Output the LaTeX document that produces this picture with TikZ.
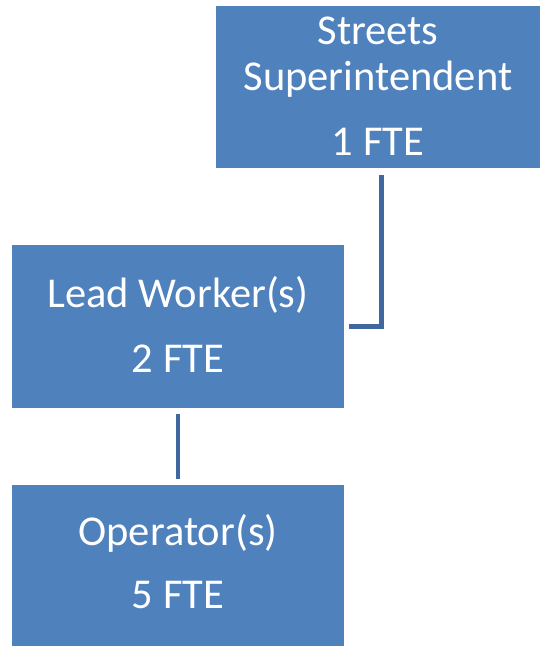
\documentclass[tikz,border=0pt]{standalone}
\usepackage{fontspec}
\setmainfont{Carlito}
\definecolor{boxblue}{RGB}{79,129,189}
\definecolor{lineblue}{RGB}{64,104,158}
\tikzset{
  orgbox/.style={draw=none, fill=boxblue, inner sep=0pt, outer sep=0pt},
  lbl/.style={anchor=base, text=white, inner sep=0pt, font=\fontsize{42.5}{47}\selectfont},
  conn/.style={draw=lineblue, line width=4.5pt, line join=miter}
}
\begin{document}
\begin{tikzpicture}[x=1pt,y=-1pt]
\useasboundingbox (0,0) rectangle (540,646);
\node[orgbox, minimum width=324pt, minimum height=162pt] (top) at (378,87) {};
\node[orgbox, minimum width=332pt, minimum height=163pt] (mid) at (178,326.5) {};
\node[orgbox, minimum width=332pt, minimum height=162pt] (bot) at (178,566) {};
\node[lbl] (t1) at (378,44) {Streets};
\node[lbl] (t2) at (378,90) {Superintendent};
\node[lbl] (t3) at (378,155) {1 FTE};
\node[lbl] (m1) at (178,307) {Lead Worker(s)};
\node[lbl] (m2) at (178,372) {2 FTE};
\node[lbl] (b1) at (178,545) {Operator(s)};
\node[lbl] (b2) at (178,608) {5 FTE};
\draw[conn] ([xshift=3.5pt,yshift=-7pt]top.south) |- ([xshift=5pt]mid.east);
\draw[conn] ([yshift=-6pt]mid.south) -- ([yshift=6pt]bot.north);
\end{tikzpicture}
\end{document}
